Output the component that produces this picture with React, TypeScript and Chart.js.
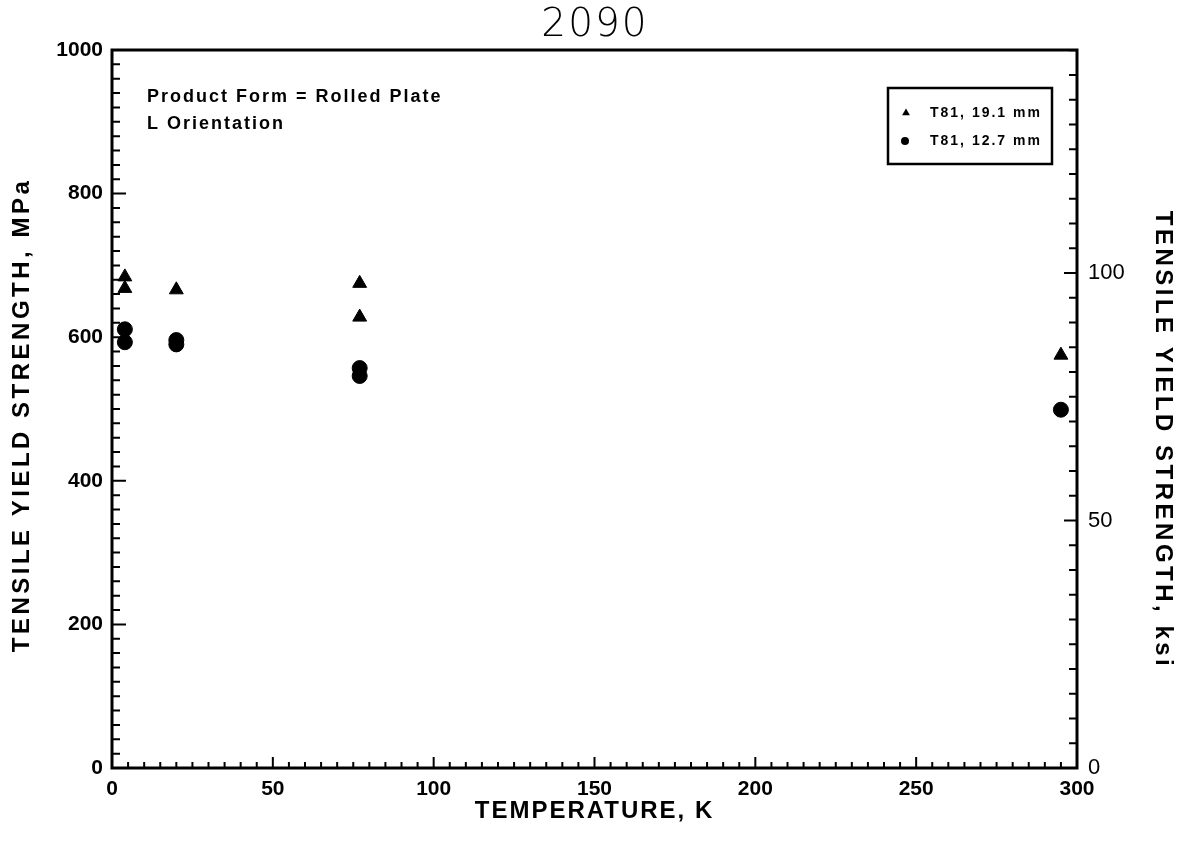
import { useEffect, useRef } from "react";
import { Chart, registerables } from "chart.js";

Chart.register(...registerables);

// Unit conversion for the secondary (ksi) axis
const MPA_PER_KSI = 6.894757;

// Axis tick values
const tempTicks = [0, 50, 100, 150, 200, 250, 300];
const mpaTicks = [0, 200, 400, 600, 800, 1000];
const ksiTicks = [0, 50, 100];

// T81 temper, 19.1 mm plate
const t19Temps = [4, 4, 20, 77, 77, 295];
const t19Yield = [684, 668, 666, 675, 628, 575];

// T81 temper, 12.7 mm plate
const t12Temps = [4, 4, 20, 20, 77, 77, 295];
const t12Yield = [611, 593, 596, 590, 557, 546, 499];

const seriesLabels = ["T81, 19.1 mm", "T81, 12.7 mm"];
const noteLines = ["Product Form = Rolled Plate", "L Orientation"];
const titleText = "2090";
const xTitle = "TEMPERATURE, K";
const yTitle = "TENSILE YIELD STRENGTH, MPa";
const y2Title = "TENSILE YIELD STRENGTH, ksi";

const SANS = "'Liberation Sans', Arial, sans-serif";

function drawText(
  ctx: CanvasRenderingContext2D,
  text: string,
  x: number,
  y: number,
  opts: { font: string; align?: CanvasTextAlign; rot?: number; spacing?: number }
) {
  ctx.save();
  ctx.translate(x, y);
  if (opts.rot) ctx.rotate(opts.rot);
  ctx.font = opts.font;
  (ctx as any).letterSpacing = `${opts.spacing ?? 0}px`;
  ctx.textAlign = opts.align ?? "left";
  ctx.textBaseline = "middle";
  ctx.fillStyle = "#000";
  ctx.fillText(text, 0, 0);
  ctx.restore();
}

const decorPlugin = {
  id: "decor",
  afterDraw(chart: any) {
    const { ctx, chartArea: a, scales } = chart;
    const xs = scales.x;
    const ys = scales.y;
    const y2s = scales.y2;
    ctx.save();
    ctx.strokeStyle = "#000";

    // plot frame
    ctx.lineWidth = 3;
    ctx.strokeRect(a.left, a.top, a.right - a.left, a.bottom - a.top);

    // inward tick marks
    ctx.lineWidth = 2;
    ctx.beginPath();
    for (let v = 0; v <= 1000; v += 20) {
      const py = ys.getPixelForValue(v);
      const len = v % 200 === 0 ? 14 : 8;
      ctx.moveTo(a.left, py);
      ctx.lineTo(a.left + len, py);
    }
    for (let v = 0; v <= 145; v += 5) {
      const py = y2s.getPixelForValue(v);
      const len = v % 50 === 0 ? 13 : 8;
      ctx.moveTo(a.right, py);
      ctx.lineTo(a.right - len, py);
    }
    for (let v = 0; v <= 300; v += 5) {
      const px = xs.getPixelForValue(v);
      const len = v % 50 === 0 ? 11 : 6;
      ctx.moveTo(px, a.bottom);
      ctx.lineTo(px, a.bottom - len);
    }
    ctx.stroke();

    // title
    drawText(ctx, titleText, 595, 26, { font: `200 39px 'DejaVu Sans', sans-serif`, align: "center", spacing: 2 });

    // axis titles
    drawText(ctx, xTitle, (a.left + a.right) / 2, 811, { font: `bold 24px ${SANS}`, align: "center", spacing: 2 });
    drawText(ctx, yTitle, 22, 415, { font: `bold 24px ${SANS}`, align: "center", rot: -Math.PI / 2, spacing: 3.5 });
    drawText(ctx, y2Title, 1163, 440, { font: `bold 24px ${SANS}`, align: "center", rot: Math.PI / 2, spacing: 3.5 });

    // note
    drawText(ctx, noteLines[0], a.left + 35, 97, { font: `bold 18px ${SANS}`, spacing: 2 });
    drawText(ctx, noteLines[1], a.left + 35, 124, { font: `bold 18px ${SANS}`, spacing: 2 });

    // legend
    const lx = a.right - 189;
    const ly = a.top + 38;
    ctx.lineWidth = 2.5;
    ctx.strokeRect(lx, ly, 164, 76);
    ctx.fillStyle = "#000";
    const r = 4.5;
    const tx = lx + 18;
    const ty = ly + 25;
    ctx.beginPath();
    ctx.moveTo(tx, ty - r);
    ctx.lineTo(tx + r * 0.87, ty + r * 0.5);
    ctx.lineTo(tx - r * 0.87, ty + r * 0.5);
    ctx.closePath();
    ctx.fill();
    ctx.beginPath();
    ctx.arc(lx + 17, ly + 53, 4, 0, Math.PI * 2);
    ctx.fill();
    drawText(ctx, seriesLabels[0], lx + 42, ty, { font: `bold 14px ${SANS}`, spacing: 2 });
    drawText(ctx, seriesLabels[1], lx + 42, ly + 53, { font: `bold 14px ${SANS}`, spacing: 2 });
    ctx.restore();
  },
};

export default function App() {
  const ref = useRef<HTMLCanvasElement>(null);

  useEffect(() => {
    const chart = new Chart(ref.current!, {
      type: "scatter",
      data: {
        datasets: [
          {
            label: seriesLabels[0],
            data: t19Temps.map((t, i) => ({ x: t, y: t19Yield[i] })),
            pointStyle: "triangle",
            pointRadius: 8,
            backgroundColor: "#000",
            borderColor: "#000",
            borderWidth: 1,
            yAxisID: "y",
          },
          {
            label: seriesLabels[1],
            data: t12Temps.map((t, i) => ({ x: t, y: t12Yield[i] })),
            pointStyle: "circle",
            pointRadius: 7.5,
            backgroundColor: "#000",
            borderColor: "#000",
            borderWidth: 1,
            yAxisID: "y",
          },
        ],
      },
      options: {
        animation: false,
        responsive: false,
        layout: { padding: { top: 50, left: 0, right: 0, bottom: 0 } },
        plugins: {
          legend: { display: false },
          tooltip: { enabled: false },
          title: { display: false },
        },
        scales: {
          x: {
            type: "linear",
            min: 0,
            max: 300,
            grid: { display: false, drawTicks: false },
            border: { display: false },
            afterBuildTicks: (s: any) => {
              s.ticks = tempTicks.map((v) => ({ value: v }));
            },
            afterFit: (s: any) => {
              s.height = 73;
            },
            ticks: {
              color: "#000",
              padding: 9,
              maxRotation: 0,
              autoSkip: false,
              callback: (v: any) => String(v),
              font: { family: SANS, size: 21, weight: "bold" },
            },
          },
          y: {
            type: "linear",
            position: "left",
            min: 0,
            max: 1000,
            grid: { display: false, drawTicks: false },
            border: { display: false },
            afterBuildTicks: (s: any) => {
              s.ticks = mpaTicks.map((v) => ({ value: v }));
            },
            afterFit: (s: any) => {
              s.width = 112;
            },
            ticks: {
              color: "#000",
              padding: 9,
              autoSkip: false,
              callback: (v: any) => String(v),
              font: { family: SANS, size: 21, weight: "bold" },
            },
          },
          y2: {
            type: "linear",
            position: "right",
            min: 0,
            max: 1000 / MPA_PER_KSI,
            grid: { display: false, drawTicks: false },
            border: { display: false },
            afterBuildTicks: (s: any) => {
              s.ticks = ksiTicks.map((v) => ({ value: v }));
            },
            afterFit: (s: any) => {
              s.width = 110;
            },
            ticks: {
              color: "#000",
              padding: 11,
              autoSkip: false,
              callback: (v: any) => String(v),
              font: { family: SANS, size: 22 },
            },
          },
        },
      },
      plugins: [decorPlugin],
    } as any);
    return () => chart.destroy();
  }, []);

  return (
    <div style={{ position: "absolute", left: 0, top: 0, width: 1187, height: 841, background: "#fff" }}>
      <canvas ref={ref} width={1187} height={841} style={{ display: "block", width: 1187, height: 841 }} />
    </div>
  );
}
